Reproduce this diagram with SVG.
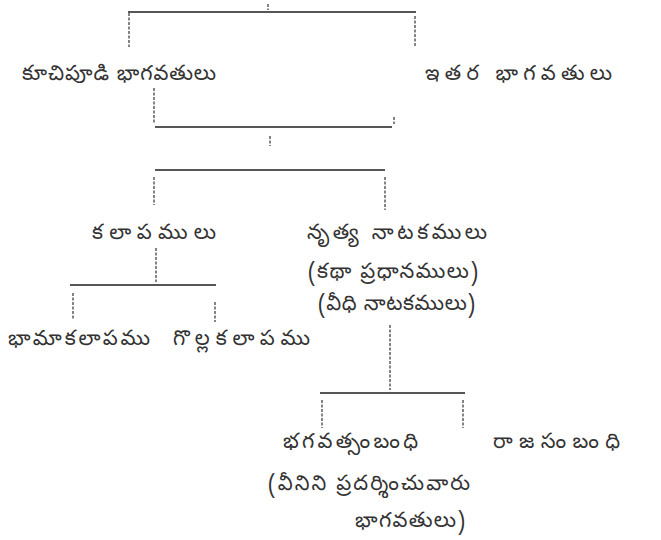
<svg xmlns="http://www.w3.org/2000/svg" width="661" height="540" viewBox="0 0 661 540">
<style>
.t{font-family:"Noto Sans Telugu","Noto Sans","DejaVu Sans",sans-serif;font-size:21px;fill:#333;}
.h{stroke:#1e1e1e;stroke-width:1.3;fill:none;}
.v{stroke:#333;stroke-width:1.2;fill:none;stroke-dasharray:3 1.5;}
</style>
<rect width="661" height="540" fill="#fff"/>
<g id="connectors">
<line class="v" x1="268" y1="4" x2="268" y2="10"/>
<line class="h" x1="128" y1="12" x2="416" y2="12"/>
<line class="v" x1="129" y1="13" x2="129" y2="47"/>
<line class="v" x1="415" y1="16" x2="415" y2="46"/>
<line class="v" x1="154" y1="88" x2="154" y2="124"/>
<line class="h" x1="155" y1="127" x2="392" y2="127"/>
<line class="v" x1="394" y1="117" x2="394" y2="124"/>
<line class="v" x1="270" y1="136" x2="270" y2="146"/>
<line class="h" x1="155" y1="170" x2="385" y2="170"/>
<line class="v" x1="154" y1="177" x2="154" y2="205"/>
<line class="v" x1="385" y1="177" x2="385" y2="210"/>
<line class="v" x1="156" y1="248" x2="156" y2="282"/>
<line class="h" x1="70" y1="285" x2="216" y2="285"/>
<line class="v" x1="73" y1="293" x2="73" y2="320"/>
<line class="v" x1="215" y1="302" x2="215" y2="322"/>
<line class="v" x1="390" y1="325" x2="390" y2="390"/>
<line class="h" x1="320" y1="393" x2="465" y2="393"/>
<line class="v" x1="322" y1="400" x2="322" y2="428"/>
<line class="v" x1="463" y1="400" x2="463" y2="428"/>
</g>
<g id="node-kuchipudi"><text class="t" x="22" y="80" textLength="194" lengthAdjust="spacing">కూచిపూడి భాగవతులు</text></g>
<g id="node-itara"><text class="t" x="425" y="80" textLength="187" lengthAdjust="spacing">ఇతర భాగవతులు</text></g>
<g id="node-kalapamulu"><text class="t" x="92" y="239" textLength="124" lengthAdjust="spacing">కలాపములు</text></g>
<g id="node-nritya">
<text class="t" x="307" y="239" textLength="180" lengthAdjust="spacing">నృత్య నాటకములు</text>
<text class="t" x="308" y="278" textLength="170" lengthAdjust="spacing">(కథా ప్రధానములు)</text>
<text class="t" x="318" y="310" textLength="157" lengthAdjust="spacing">(వీధి నాటకములు)</text>
</g>
<g id="node-bhama"><text class="t" x="8" y="345" textLength="142" lengthAdjust="spacing">భామాకలాపము</text></g>
<g id="node-golla"><text class="t" x="173" y="345" textLength="137" lengthAdjust="spacing">గొల్లకలాపము</text></g>
<g id="node-bhagavat">
<text class="t" x="283" y="448" textLength="135" lengthAdjust="spacing">భగవత్సంబంధి</text>
<text class="t" x="268" y="490" textLength="202" lengthAdjust="spacing">(వీనిని ప్రదర్శించువారు</text>
<text class="t" x="355" y="527" textLength="110" lengthAdjust="spacing">భాగవతులు)</text>
</g>
<g id="node-raja"><text class="t" x="493" y="448" textLength="127" lengthAdjust="spacing">రాజసంబంధి</text></g>
</svg>
